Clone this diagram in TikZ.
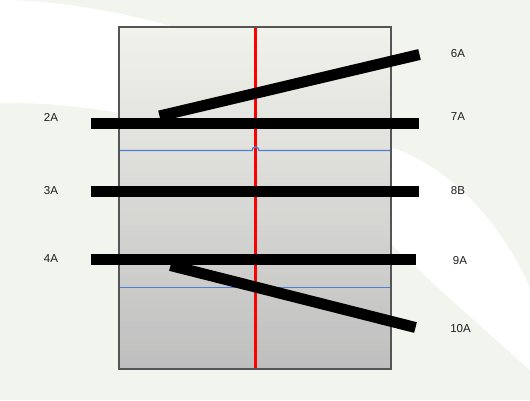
\documentclass[tikz,border=0pt]{standalone}
\usepackage{fontspec}
\setmainfont{Liberation Sans}
\definecolor{bgback}{RGB}{242,244,238}
\definecolor{boxtop}{RGB}{242,242,236}
\definecolor{boxbot}{RGB}{191,191,191}
\definecolor{boxedge}{RGB}{85,85,85}
\definecolor{gridblue}{RGB}{80,128,212}
\definecolor{labelcol}{RGB}{30,30,30}
\tikzset{
  lbl/.style={font=\fontsize{11.5}{13}\selectfont, text=labelcol, inner sep=0pt, anchor=center},
  bar/.style={line width=11pt, line cap=butt, black},
  gridline/.style={draw=gridblue, line width=1.3pt},
}
\begin{document}
\begin{tikzpicture}[x=1pt,y=-1pt]
\useasboundingbox (0,0) rectangle (530,400);
% background
\fill[bgback] (0,0) rectangle (530,400);
\fill[white] (0,0) .. controls (60,0) and (120,12) .. (175,27)
  -- (393,148) .. controls (450,168) and (500,220) .. (530,288)
  -- (530,370) .. controls (480,326) and (440,290) .. (390,243)
  -- (119,113) .. controls (70,104) and (30,103) .. (0,103) -- cycle;
% box with vertical gradient made of strips
\foreach \i in {0,...,56}{
  \pgfmathsetmacro{\pct}{100*\i/56}
  \pgfmathsetmacro{\ya}{27+6*\i}
  \pgfmathsetmacro{\yb}{min(369,27+6*\i+6.6)}
  \fill[boxbot!\pct!boxtop] (119,\ya) rectangle (391,\yb);
}
\draw[draw=red, line width=3pt] (255.5,27.8) -- (255.5,368.2);
\draw[gridline] (119.8,150.5) -- (252,150.5) arc[start angle=180,end angle=360,radius=3.5] -- (390.2,150.5);
\draw[gridline] (119.8,287.5) -- (390.2,287.5);
\draw[boxedge, line width=1.5pt] (119,27) rectangle (391,369);
% labels
\node[lbl] (l2A) at (51,117) {2A};
\node[lbl] (l3A) at (51,191) {3A};
\node[lbl] (l4A) at (51,259) {4A};
\node[lbl] (l6A) at (458,54) {6A};
\node[lbl] (l7A) at (458,117) {7A};
\node[lbl] (l8B) at (458,191) {8B};
\node[lbl] (l9A) at (460,261) {9A};
\node[lbl] (l10A) at (460.5,329) {10A};
% bar end points
\coordinate (b2) at (91,123);
\coordinate (b7) at (419,123);
\coordinate (b3) at (91,191);
\coordinate (b8) at (419,191);
\coordinate (b4) at (91,259.5);
\coordinate (b9) at (416,259.5);
\coordinate (b6s) at (159.5,116);
\coordinate (b6) at (419.5,54.5);
\coordinate (b10s) at (170.5,265.5);
\coordinate (b10) at (415.5,327.5);
% bars
\draw[bar] (b6s) -- (b6);
\draw[bar] (b2) -- (b7);
\draw[bar] (b3) -- (b8);
\draw[bar] (b10s) -- (b10);
\draw[bar] (b4) -- (b9);
\end{tikzpicture}
\end{document}
